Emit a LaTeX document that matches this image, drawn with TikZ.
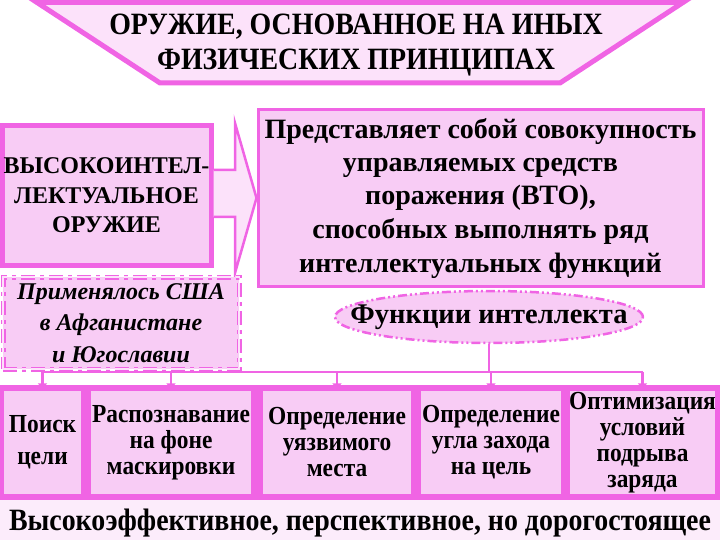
\documentclass[tikz,border=0pt]{standalone}
\usepackage{fontspec}
\setmainfont{Liberation Serif}[BoldFont={Liberation Serif Bold},ItalicFont={Liberation Serif Italic},
	BoldItalicFont={Liberation Serif Bold Italic}]
\newfontfamily\narrowfont{Liberation Serif Bold}[FakeStretch=0.9]
\usetikzlibrary{shapes.geometric,arrows.meta}
\definecolor{mag}{RGB}{240,100,228}
\definecolor{pinkbox}{RGB}{248,204,245}
\definecolor{pinklight}{RGB}{252,226,250}
\definecolor{pinkpale}{RGB}{252,236,251}
\begin{document}
\begin{tikzpicture}[x=1pt,y=-1pt,
	box/.style={draw=mag,line width=1.5pt,fill=pinkbox,align=center,inner sep=0pt,
		minimum height=105pt,font=\narrowfont\fontsize{26}{26}\selectfont},
	conn/.style={draw=mag,line width=2.5pt}]
	\useasboundingbox (0,0) rectangle (720,540);
	% title
	\draw[mag,line width=5pt,fill=pinklight] (37,2.5)--(683,2.5)--(560,83)--(160,83)--cycle;
	\node[align=center,font=\narrowfont\fontsize{31}{35}\selectfont] (title) at (356,45)
		{ОРУЖИЕ, ОСНОВАННОЕ НА ИНЫХ\\ФИЗИЧЕСКИХ ПРИНЦИПАХ};
	% left and right blocks
	\node[draw=mag,line width=5pt,fill=pinkbox,minimum width=209pt,minimum height=139pt,
		inner sep=0pt,align=center,font=\bfseries\fontsize{24}{29.5}\selectfont] (hi) at (106.5,195.5)
		{ВЫСОКОИНТЕЛ-\\ЛЕКТУАЛЬНОЕ\\ОРУЖИЕ};
	\node[draw=mag,line width=3pt,fill=pinkbox,minimum width=445pt,minimum height=176pt,
		inner sep=0pt,align=center,font=\bfseries\fontsize{28}{33.5}\selectfont] (pr) at (480.5,198)
		{Представляет собой совокупность\\управляемых средств\\поражения (ВТО),\\способных выполнять ряд\\интеллектуальных функций};
	\draw[mag,line width=2.5pt,fill=pinklight] (hi.east|-0,170)--(235,170)--(235,123)--(pr.west|-0,198)
		--(235,273)--(235,217)--(hi.east|-0,217);
	\node[draw=mag,double=pinklight,double distance=2pt,line width=1.5pt,
		dash pattern=on 14pt off 5pt on 4pt off 5pt,fill=pinkbox,minimum width=236pt,minimum height=92pt,
		inner sep=0pt,align=center,font=\bfseries\itshape\fontsize{24}{31.5}\selectfont] (usa) at (121,323)
		{Применялось США\\в Афганистане\\и Югославии};
	\node[ellipse,draw=mag,line width=2.5pt,dash pattern=on 9pt off 3pt on 2pt off 3pt on 2pt off 3pt,
		fill=pinkbox,minimum width=308pt,minimum height=52pt,inner sep=0pt,
		font=\bfseries\fontsize{28.5}{30}\selectfont] (fn) at (489,317) {\makebox[0pt]{Функции интеллекта}};
	% functions
	\fill[mag] (0,385) rectangle (720,500);
	\fill[pinkpale] (0,500) rectangle (720,540);
	\node[box,minimum width=79pt,font=\narrowfont\fontsize{26}{32}\selectfont] (p1) at (42.5,442.5) {Поиск\\цели};
	\node[box,minimum width=162pt] (p2) at (171,442.5) {Распознавание\\на фоне\\маскировки};
	\node[box,minimum width=150pt] (p3) at (337,442.5) {Определение\\уязвимого\\места};
	\node[box,minimum width=142pt] (p4) at (491,442.5) {Определение\\угла захода\\на цель};
	\node[box,minimum width=141pt] (p5) at (642.5,442.5) {Оптимизация\\условий\\подрыва\\заряда};
	\node[font=\narrowfont\fontsize{31}{32}\selectfont] (cost) at (360,523)
		{Высокоэффективное, перспективное, но дорогостоящее};
	\coordinate (bus) at (0,372);
	\draw[conn] (fn.south)--(fn.south|-bus);
	\draw[conn] (p1.north|-bus)--(p5.north|-bus);
	\foreach \p in {p1,p2,p3,p4,p5}
		\draw[conn,-{Triangle[length=6pt,width=9pt]}] (\p.north|-bus)--(\p.north);
\end{tikzpicture}
\end{document}
